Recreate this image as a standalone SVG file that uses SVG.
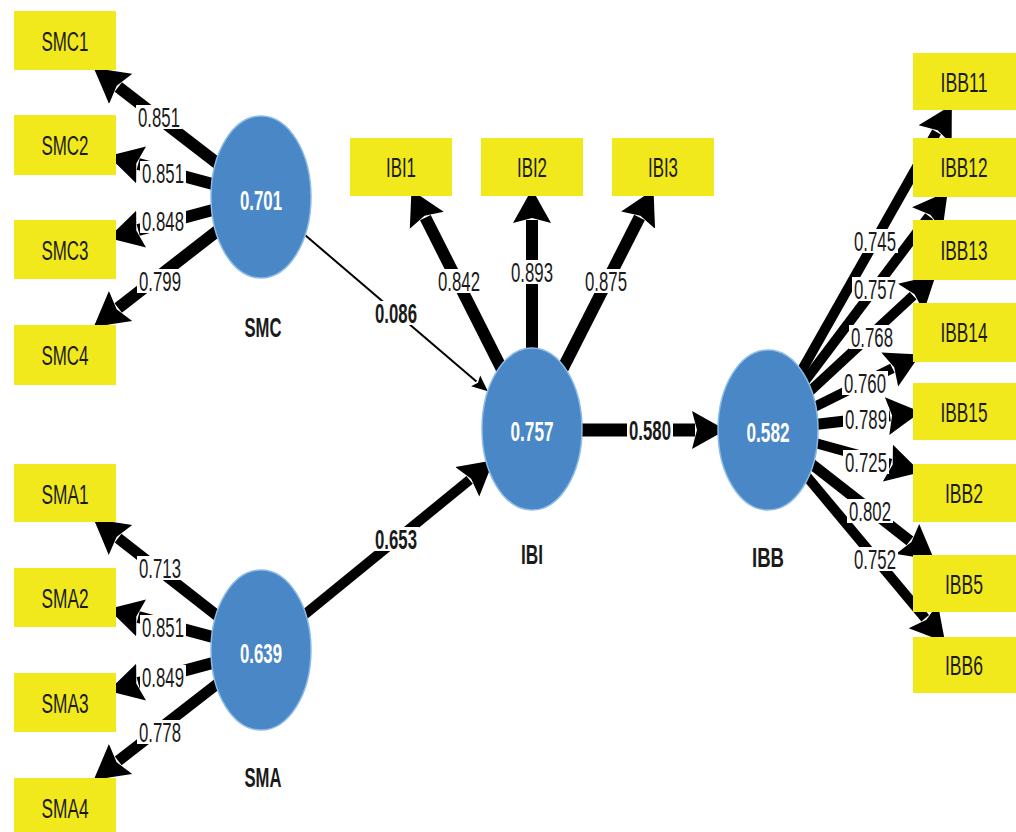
<svg xmlns="http://www.w3.org/2000/svg" width="1016" height="832" viewBox="0 0 1016 832">
<style>
.box{fill:#F1E91B}
.lv{fill:#4A87C6;stroke:#8CBCE6;stroke-width:1.5}
.t{font-family:"Liberation Sans",Arial,sans-serif;font-size:27px;fill:#1a1a1a;text-anchor:middle}
.b{font-weight:bold}
.tw{font-family:"Liberation Sans",Arial,sans-serif;font-size:27px;font-weight:bold;fill:#ffffff;text-anchor:middle}
.c{stroke:#000;fill:none;stroke-linecap:butt}
.lbg{fill:#fff}
</style>
<defs>
<marker id="ah" markerUnits="userSpaceOnUse" viewBox="0 -20 36 40" markerWidth="36" markerHeight="40" refX="3" refY="0" orient="auto"><path d="M0,-19 Q16,-10 34,0 Q16,10 0,19 L5,0 Z" fill="#000"/></marker>
<marker id="as" markerUnits="userSpaceOnUse" viewBox="0 -8 18 16" markerWidth="18" markerHeight="16" refX="1" refY="0" orient="auto"><path d="M0,-7 L16,0 L0,7 L3,0 Z" fill="#000"/></marker>
</defs>
<rect width="1016" height="832" fill="#fff"/>
<g id="connectors">
<line class="c" stroke-width="12" x1="261" y1="197" x2="118.3" y2="87" marker-end="url(#ah)"/>
<line class="c" stroke-width="12" x1="261" y1="197" x2="138.2" y2="164" marker-end="url(#ah)"/>
<line class="c" stroke-width="12" x1="261" y1="197" x2="138.2" y2="230" marker-end="url(#ah)"/>
<line class="c" stroke-width="12" x1="261" y1="197" x2="118.2" y2="307.9" marker-end="url(#ah)"/>
<line class="c" stroke-width="11" x1="261" y1="650" x2="118.1" y2="538.2" marker-end="url(#ah)"/>
<line class="c" stroke-width="12" x1="261" y1="650" x2="138.2" y2="617" marker-end="url(#ah)"/>
<line class="c" stroke-width="12" x1="261" y1="650" x2="138.2" y2="683" marker-end="url(#ah)"/>
<line class="c" stroke-width="11" x1="261" y1="650" x2="118.2" y2="760.9" marker-end="url(#ah)"/>
<line class="c" stroke-width="12" x1="532" y1="429" x2="425.4" y2="217.6" marker-end="url(#ah)"/>
<line class="c" stroke-width="12" x1="532" y1="429" x2="532" y2="220" marker-end="url(#ah)"/>
<line class="c" stroke-width="12" x1="532" y1="429" x2="639.5" y2="217.5" marker-end="url(#ah)"/>
<line class="c" stroke-width="2" x1="305" y1="235" x2="476.4" y2="381.5" marker-end="url(#as)"/>
<line class="c" stroke-width="10" x1="261" y1="650" x2="469.6" y2="479.9" marker-end="url(#ah)"/>
<line class="c" stroke-width="13" x1="532" y1="430" x2="695" y2="430" marker-end="url(#ah)"/>
<line class="c" stroke-width="10" x1="768" y1="430" x2="936.6" y2="132" marker-end="url(#ah)"/>
<line class="c" stroke-width="10" x1="768" y1="430" x2="929.1" y2="216.3" marker-end="url(#ah)"/>
<line class="c" stroke-width="10" x1="768" y1="430" x2="913.1" y2="295.7" marker-end="url(#ah)"/>
<line class="c" stroke-width="10" x1="768" y1="430" x2="892.4" y2="368.2" marker-end="url(#ah)"/>
<line class="c" stroke-width="11" x1="768" y1="430" x2="890.1" y2="415.7" marker-end="url(#ah)"/>
<line class="c" stroke-width="10" x1="768" y1="430" x2="890.8" y2="463.9" marker-end="url(#ah)"/>
<line class="c" stroke-width="11" x1="768" y1="430" x2="909.9" y2="540.8" marker-end="url(#ah)"/>
<line class="c" stroke-width="10" x1="768" y1="430" x2="925.2" y2="618.3" marker-end="url(#ah)"/>
<g id="edge-labels">
<rect class="lbg" x="136" y="105" width="46" height="24"/><text class="t" x="159" y="127" textLength="42" lengthAdjust="spacingAndGlyphs">0.851</text>
<rect class="lbg" x="140" y="161" width="46" height="24"/><text class="t" x="163" y="183" textLength="42" lengthAdjust="spacingAndGlyphs">0.851</text>
<rect class="lbg" x="140" y="209" width="46" height="24"/><text class="t" x="163" y="231" textLength="42" lengthAdjust="spacingAndGlyphs">0.848</text>
<rect class="lbg" x="137" y="269" width="46" height="24"/><text class="t" x="160" y="291" textLength="42" lengthAdjust="spacingAndGlyphs">0.799</text>
<rect class="lbg" x="137" y="556" width="46" height="24"/><text class="t" x="160" y="578" textLength="42" lengthAdjust="spacingAndGlyphs">0.713</text>
<rect class="lbg" x="140" y="615" width="46" height="24"/><text class="t" x="163" y="637" textLength="42" lengthAdjust="spacingAndGlyphs">0.851</text>
<rect class="lbg" x="140" y="665" width="46" height="24"/><text class="t" x="163" y="687" textLength="42" lengthAdjust="spacingAndGlyphs">0.849</text>
<rect class="lbg" x="137" y="720" width="46" height="24"/><text class="t" x="160" y="742" textLength="42" lengthAdjust="spacingAndGlyphs">0.778</text>
<rect class="lbg" x="436" y="269" width="46" height="24"/><text class="t" x="459" y="291" textLength="42" lengthAdjust="spacingAndGlyphs">0.842</text>
<rect class="lbg" x="509" y="260" width="46" height="24"/><text class="t" x="532" y="282" textLength="42" lengthAdjust="spacingAndGlyphs">0.893</text>
<rect class="lbg" x="583" y="269" width="46" height="24"/><text class="t" x="606" y="291" textLength="42" lengthAdjust="spacingAndGlyphs">0.875</text>
<rect class="lbg" x="373" y="301" width="46" height="24"/><text class="t b" x="396" y="323" textLength="42" lengthAdjust="spacingAndGlyphs">0.086</text>
<rect class="lbg" x="373" y="527" width="46" height="24"/><text class="t b" x="396" y="549" textLength="42" lengthAdjust="spacingAndGlyphs">0.653</text>
<rect class="lbg" x="627" y="418" width="46" height="24"/><text class="t b" x="650" y="440" textLength="42" lengthAdjust="spacingAndGlyphs">0.580</text>
<rect class="lbg" x="852" y="229" width="46" height="24"/><text class="t" x="875" y="251" textLength="42" lengthAdjust="spacingAndGlyphs">0.745</text>
<rect class="lbg" x="852" y="277" width="46" height="24"/><text class="t" x="875" y="299" textLength="42" lengthAdjust="spacingAndGlyphs">0.757</text>
<rect class="lbg" x="849" y="325" width="46" height="24"/><text class="t" x="872" y="347" textLength="42" lengthAdjust="spacingAndGlyphs">0.768</text>
<rect class="lbg" x="842" y="371" width="46" height="24"/><text class="t" x="865" y="393" textLength="42" lengthAdjust="spacingAndGlyphs">0.760</text>
<rect class="lbg" x="843" y="407" width="46" height="24"/><text class="t" x="866" y="429" textLength="42" lengthAdjust="spacingAndGlyphs">0.789</text>
<rect class="lbg" x="843" y="450" width="46" height="24"/><text class="t" x="866" y="472" textLength="42" lengthAdjust="spacingAndGlyphs">0.725</text>
<rect class="lbg" x="847" y="499" width="46" height="24"/><text class="t" x="870" y="521" textLength="42" lengthAdjust="spacingAndGlyphs">0.802</text>
<rect class="lbg" x="852" y="547" width="46" height="24"/><text class="t" x="875" y="569" textLength="42" lengthAdjust="spacingAndGlyphs">0.752</text>
</g>
</g>
<g id="SMC"><ellipse class="lv" cx="261" cy="197" rx="50" ry="81"/><text class="tw" x="261" y="210" textLength="42" lengthAdjust="spacingAndGlyphs">0.701</text><text class="t b" x="263" y="337" textLength="37" lengthAdjust="spacingAndGlyphs">SMC</text></g>
<g id="SMA"><ellipse class="lv" cx="261" cy="650" rx="50" ry="80"/><text class="tw" x="261" y="663" textLength="42" lengthAdjust="spacingAndGlyphs">0.639</text><text class="t b" x="263" y="787" textLength="37" lengthAdjust="spacingAndGlyphs">SMA</text></g>
<g id="IBI"><ellipse class="lv" cx="532" cy="429" rx="50" ry="81"/><text class="tw" x="532" y="441" textLength="43" lengthAdjust="spacingAndGlyphs">0.757</text><text class="t b" x="532" y="564" textLength="22" lengthAdjust="spacingAndGlyphs">IBI</text></g>
<g id="IBB"><ellipse class="lv" cx="768" cy="430" rx="50" ry="80"/><text class="tw" x="768" y="442" textLength="43" lengthAdjust="spacingAndGlyphs">0.582</text><text class="t b" x="768" y="567" textLength="32" lengthAdjust="spacingAndGlyphs">IBB</text></g>
<g id="SMC1"><rect class="box" x="14" y="11" width="102" height="59"/><text class="t" x="65" y="51" textLength="47" lengthAdjust="spacingAndGlyphs">SMC1</text></g>
<g id="SMC2"><rect class="box" x="14" y="115" width="102" height="60"/><text class="t" x="65" y="155" textLength="47" lengthAdjust="spacingAndGlyphs">SMC2</text></g>
<g id="SMC3"><rect class="box" x="14" y="220" width="102" height="59"/><text class="t" x="65" y="260" textLength="47" lengthAdjust="spacingAndGlyphs">SMC3</text></g>
<g id="SMC4"><rect class="box" x="14" y="325" width="102" height="60"/><text class="t" x="65" y="365" textLength="47" lengthAdjust="spacingAndGlyphs">SMC4</text></g>
<g id="SMA1"><rect class="box" x="14" y="464" width="102" height="58"/><text class="t" x="65" y="504" textLength="47" lengthAdjust="spacingAndGlyphs">SMA1</text></g>
<g id="SMA2"><rect class="box" x="14" y="568" width="102" height="59"/><text class="t" x="65" y="608" textLength="47" lengthAdjust="spacingAndGlyphs">SMA2</text></g>
<g id="SMA3"><rect class="box" x="14" y="673" width="102" height="59"/><text class="t" x="65" y="713" textLength="47" lengthAdjust="spacingAndGlyphs">SMA3</text></g>
<g id="SMA4"><rect class="box" x="14" y="778" width="102" height="60"/><text class="t" x="65" y="818" textLength="47" lengthAdjust="spacingAndGlyphs">SMA4</text></g>
<g id="IBI1"><rect class="box" x="350" y="138" width="102" height="58"/><text class="t" x="401" y="177" textLength="30" lengthAdjust="spacingAndGlyphs">IBI1</text></g>
<g id="IBI2"><rect class="box" x="481" y="138" width="102" height="58"/><text class="t" x="532" y="177" textLength="30" lengthAdjust="spacingAndGlyphs">IBI2</text></g>
<g id="IBI3"><rect class="box" x="612" y="138" width="102" height="58"/><text class="t" x="663" y="177" textLength="30" lengthAdjust="spacingAndGlyphs">IBI3</text></g>
<g id="IBB11"><rect class="box" x="913" y="53" width="103" height="57"/><text class="t" x="964" y="92" textLength="47" lengthAdjust="spacingAndGlyphs">IBB11</text></g>
<g id="IBB12"><rect class="box" x="913" y="138" width="103" height="59"/><text class="t" x="964" y="177" textLength="47" lengthAdjust="spacingAndGlyphs">IBB12</text></g>
<g id="IBB13"><rect class="box" x="913" y="220" width="103" height="60"/><text class="t" x="964" y="260" textLength="47" lengthAdjust="spacingAndGlyphs">IBB13</text></g>
<g id="IBB14"><rect class="box" x="913" y="303" width="103" height="59"/><text class="t" x="964" y="342" textLength="47" lengthAdjust="spacingAndGlyphs">IBB14</text></g>
<g id="IBB15"><rect class="box" x="913" y="383" width="103" height="57"/><text class="t" x="964" y="422" textLength="47" lengthAdjust="spacingAndGlyphs">IBB15</text></g>
<g id="IBB2"><rect class="box" x="913" y="464" width="103" height="58"/><text class="t" x="964" y="503" textLength="38" lengthAdjust="spacingAndGlyphs">IBB2</text></g>
<g id="IBB5"><rect class="box" x="913" y="555" width="103" height="57"/><text class="t" x="964" y="594" textLength="38" lengthAdjust="spacingAndGlyphs">IBB5</text></g>
<g id="IBB6"><rect class="box" x="913" y="637" width="103" height="56"/><text class="t" x="964" y="675" textLength="38" lengthAdjust="spacingAndGlyphs">IBB6</text></g>
</svg>
